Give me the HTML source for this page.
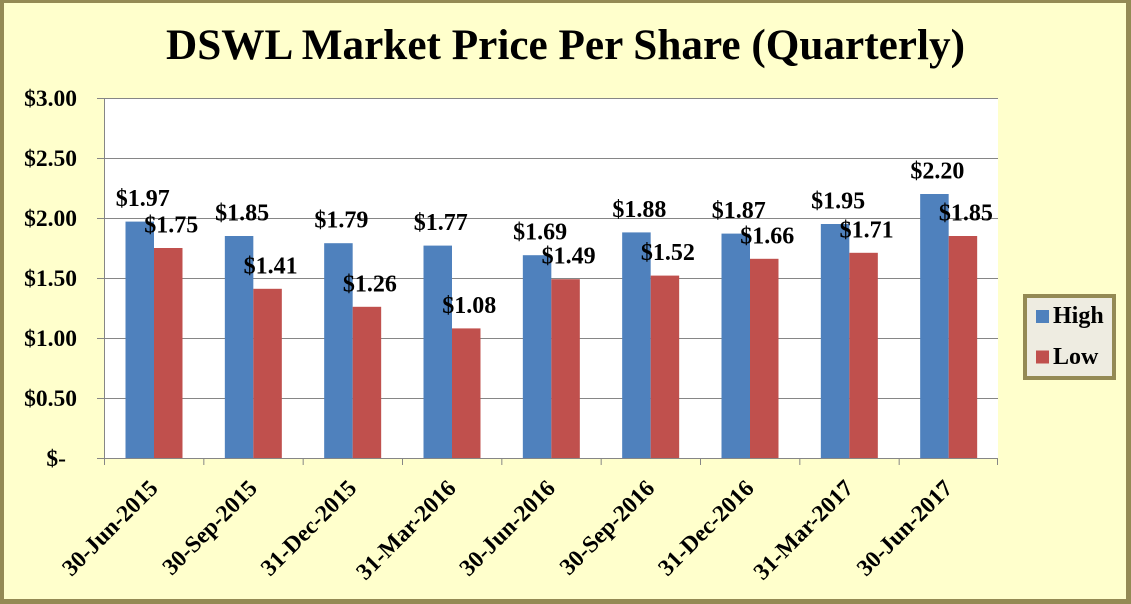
<!DOCTYPE html>
<html><head><meta charset="utf-8"><style>
html,body{margin:0;padding:0;background:#FFFFCC;}
svg{display:block;}
text{font-family:"Liberation Serif","Times New Roman",serif;font-weight:bold;fill:#000;}
</style></head><body>
<svg width="1131" height="604" viewBox="0 0 1131 604" xmlns="http://www.w3.org/2000/svg">
<rect x="0" y="0" width="1131" height="604" fill="#948A54"/>
<rect x="4" y="3" width="1122" height="596" fill="#FFFFCC"/>
<text x="565.5" y="59" font-size="43" text-anchor="middle" textLength="799" lengthAdjust="spacingAndGlyphs">DSWL Market Price Per Share (Quarterly)</text>
<rect x="104" y="98" width="894" height="360" fill="#FFFFFF"/>
<g stroke="#868686" stroke-width="1">
<line x1="97" y1="98.5" x2="998" y2="98.5"/>
<line x1="97" y1="158.5" x2="998" y2="158.5"/>
<line x1="97" y1="218.5" x2="998" y2="218.5"/>
<line x1="97" y1="278.5" x2="998" y2="278.5"/>
<line x1="97" y1="338.5" x2="998" y2="338.5"/>
<line x1="97" y1="398.5" x2="998" y2="398.5"/>
</g>
<g fill="#4F81BD">
<rect x="125.5" y="221.6" width="28.5" height="236.4"/>
<rect x="224.83" y="236" width="28.5" height="222"/>
<rect x="324.17" y="243.2" width="28.5" height="214.8"/>
<rect x="423.5" y="245.6" width="28.5" height="212.4"/>
<rect x="522.83" y="255.2" width="28.5" height="202.8"/>
<rect x="622.17" y="232.4" width="28.5" height="225.6"/>
<rect x="721.5" y="233.6" width="28.5" height="224.4"/>
<rect x="820.83" y="224" width="28.5" height="234"/>
<rect x="920.17" y="194" width="28.5" height="264"/>
</g>
<g fill="#C0504D">
<rect x="154" y="248" width="28.5" height="210"/>
<rect x="253.33" y="288.8" width="28.5" height="169.2"/>
<rect x="352.67" y="306.8" width="28.5" height="151.2"/>
<rect x="452" y="328.4" width="28.5" height="129.6"/>
<rect x="551.33" y="279.2" width="28.5" height="178.8"/>
<rect x="650.67" y="275.6" width="28.5" height="182.4"/>
<rect x="750" y="258.8" width="28.5" height="199.2"/>
<rect x="849.33" y="252.8" width="28.5" height="205.2"/>
<rect x="948.67" y="236" width="28.5" height="222"/>
</g>
<g stroke="#868686" stroke-width="1">
<line x1="104.5" y1="98" x2="104.5" y2="465"/>
<line x1="97" y1="458.5" x2="998" y2="458.5"/>
<line x1="203.83" y1="458" x2="203.83" y2="465"/>
<line x1="303.17" y1="458" x2="303.17" y2="465"/>
<line x1="402.5" y1="458" x2="402.5" y2="465"/>
<line x1="501.83" y1="458" x2="501.83" y2="465"/>
<line x1="601.17" y1="458" x2="601.17" y2="465"/>
<line x1="700.5" y1="458" x2="700.5" y2="465"/>
<line x1="799.83" y1="458" x2="799.83" y2="465"/>
<line x1="899.17" y1="458" x2="899.17" y2="465"/>
<line x1="997.5" y1="458" x2="997.5" y2="465"/>
</g>
<g font-size="23.5" text-anchor="end">
<text x="77" y="106">$3.00</text>
<text x="77" y="166">$2.50</text>
<text x="77" y="226">$2.00</text>
<text x="77" y="286">$1.50</text>
<text x="77" y="346">$1.00</text>
<text x="77" y="406">$0.50</text>
<text x="66" y="466">$-</text>
</g>
<g font-size="24" text-anchor="middle">
<text x="142.75" y="206.1">$1.97</text>
<text x="171.25" y="232.5">$1.75</text>
<text x="242.08" y="220.5">$1.85</text>
<text x="270.58" y="273.3">$1.41</text>
<text x="341.42" y="227.7">$1.79</text>
<text x="369.92" y="291.3">$1.26</text>
<text x="440.75" y="230.1">$1.77</text>
<text x="469.25" y="312.9">$1.08</text>
<text x="540.08" y="239.7">$1.69</text>
<text x="568.58" y="263.7">$1.49</text>
<text x="639.42" y="216.9">$1.88</text>
<text x="667.92" y="260.1">$1.52</text>
<text x="738.75" y="218.1">$1.87</text>
<text x="767.25" y="243.3">$1.66</text>
<text x="838.08" y="208.5">$1.95</text>
<text x="866.58" y="237.3">$1.71</text>
<text x="937.42" y="178.5">$2.20</text>
<text x="965.92" y="220.5">$1.85</text>
</g>
<g font-size="23.5" text-anchor="end">
<text x="159.17" y="489.5" transform="rotate(-45 159.17 489.5)">30-Jun-2015</text>
<text x="258.5" y="489.5" transform="rotate(-45 258.5 489.5)">30-Sep-2015</text>
<text x="357.83" y="489.5" transform="rotate(-45 357.83 489.5)">31-Dec-2015</text>
<text x="457.17" y="489.5" transform="rotate(-45 457.17 489.5)">31-Mar-2016</text>
<text x="556.5" y="489.5" transform="rotate(-45 556.5 489.5)">30-Jun-2016</text>
<text x="655.83" y="489.5" transform="rotate(-45 655.83 489.5)">30-Sep-2016</text>
<text x="755.17" y="489.5" transform="rotate(-45 755.17 489.5)">31-Dec-2016</text>
<text x="854.5" y="489.5" transform="rotate(-45 854.5 489.5)">31-Mar-2017</text>
<text x="953.83" y="489.5" transform="rotate(-45 953.83 489.5)">30-Jun-2017</text>
</g>
<rect x="1025" y="296" width="89" height="82" fill="#EEECE1" stroke="#948A54" stroke-width="4"/>
<rect x="1036" y="310" width="13" height="13" fill="#4F81BD"/>
<rect x="1036" y="350.5" width="13" height="13" fill="#C0504D"/>
<text x="1053" y="323" font-size="24">High</text>
<text x="1053" y="364" font-size="24">Low</text>
</svg>
</body></html>
